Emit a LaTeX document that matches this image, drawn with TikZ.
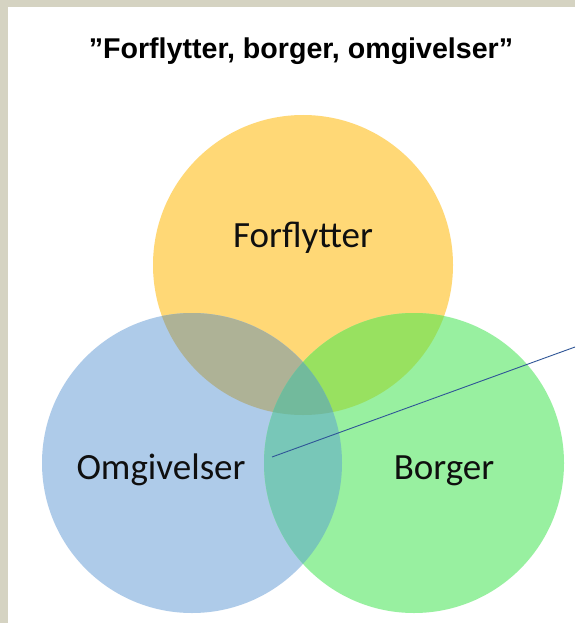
\documentclass[tikz,border=0pt]{standalone}
\usepackage{fontspec}
\setmainfont{Liberation Sans}
\newfontfamily\calibri{Carlito}
\usetikzlibrary{positioning}

\definecolor{frameC}{RGB}{213,211,194}
\definecolor{forflC}{RGB}{255,216,118}
\definecolor{omgivC}{RGB}{174,203,233}
\definecolor{borgerC}{RGB}{152,240,160}
\definecolor{forflomgivC}{RGB}{174,178,150}
\definecolor{forflborgerC}{RGB}{152,225,96}
\definecolor{omgivborgerC}{RGB}{120,199,184}
\definecolor{allthreeC}{RGB}{114,186,156}
\definecolor{leaderC}{RGB}{47,85,151}

\begin{document}
\begin{tikzpicture}[x=1pt,y=1pt,yscale=-1,xscale=1,
  vennlabel/.style={inner sep=0.75pt,anchor=base,font=\calibri\fontsize{37}{44}\selectfont,text={rgb,255:red,15;green,15;blue,15}},
  leader/.style={draw=leaderC,line width=0.9pt}]
\useasboundingbox (0,0) rectangle (575,623);

%Shape: Frame
\fill [frameC] (0,0) rectangle (575,623);
\fill [white] (8,7) rectangle (575,623);

%Shape: Circle (Forflytter)
\fill [forflC] (303,265) circle (150);
%Shape: Circle (Omgivelser)
\fill [omgivC] (192,463) circle (150);
%Shape: Circle (Borger)
\fill [borgerC] (414,463) circle (150);

%Shape: Overlaps
\begin{scope}
\clip (303,265) circle (150);
\fill [forflomgivC] (192,463) circle (150);
\fill [forflborgerC] (414,463) circle (150);
\end{scope}
\begin{scope}
\clip (192,463) circle (150);
\fill [omgivborgerC] (414,463) circle (150);
\clip (414,463) circle (150);
\fill [allthreeC] (303,265) circle (150);
\end{scope}

% Text Node
\draw (301,59) node [anchor=base] [inner sep=0.75pt] (title) {\fontsize{28.6}{34}\selectfont\bfseries ”Forflytter, borger, omgivelser”};
% Text Node
\draw (303,247) node [vennlabel] (forfl) {Forflytter};
% Text Node
\draw (161,479) node [vennlabel] (omgiv) {Omgivelser};
% Text Node
\draw (444,479) node [vennlabel] (borger) {Borger};

%Straight Lines
\coordinate (leadstart) at (272,457);
\coordinate (leadend) at (575,347);
\draw [leader] (leadstart) -- (leadend);

\end{tikzpicture}
\end{document}
